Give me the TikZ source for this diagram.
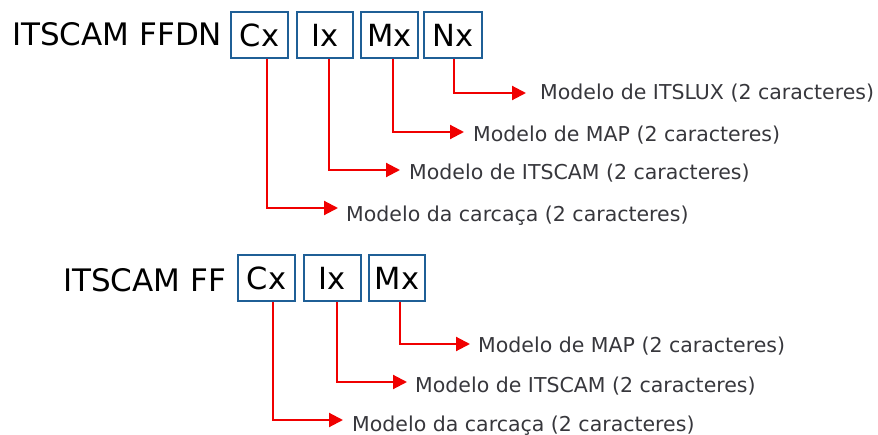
\documentclass[tikz,border=0pt]{standalone}
\usepackage{fontspec}
\setmainfont{DejaVu Sans}
\usetikzlibrary{arrows.meta}
\definecolor{boxblue}{RGB}{31,95,150}
\definecolor{arrred}{RGB}{240,0,0}
\definecolor{labgray}{RGB}{55,55,60}
\begin{document}
\begin{tikzpicture}[x=1pt,y=-1pt,
  titletext/.style={anchor=base west,inner sep=0pt,font=\fontsize{31}{31}\selectfont,text=black},
  fieldbox/.style={draw=boxblue,line width=2.6pt,minimum height=46pt,inner sep=0pt,
    font=\fontsize{30.5}{30.5}\selectfont,text=black},
  labeltext/.style={anchor=base west,inner sep=0pt,font=\fontsize{20.5}{20.5}\selectfont,text=labgray},
  arr/.style={draw=arrred,line width=2.1pt,-{Triangle[length=14pt,width=14pt]}}]
\useasboundingbox (0,0) rectangle (878,435);

% ---- top group ----
\node[titletext] (t1) at (12,46) {ITSCAM FFDN};
\node[fieldbox,minimum width=57pt] (c1) at (259.5,35) {Cx};
\node[fieldbox,minimum width=56pt] (i1) at (325,35) {Ix};
\node[fieldbox,minimum width=57pt] (m1) at (389.5,35) {Mx};
\node[fieldbox,minimum width=58pt] (n1) at (453,35) {Nx};

\node[labeltext] (ln1) at (540,100) {Modelo de ITSLUX (2 caracteres)};
\node[labeltext] (lm1) at (473,142) {Modelo de MAP (2 caracteres)};
\node[labeltext] (li1) at (409,180) {Modelo de ITSCAM (2 caracteres)};
\node[labeltext] (lc1) at (346,222) {Modelo da carcaça (2 caracteres)};

\coordinate (tn1) at (526,93);
\coordinate (tm1) at (464,132);
\coordinate (ti1) at (400,170);
\coordinate (tc1) at (338,208);

\draw[arr] ([xshift=1pt]n1.south) |- (tn1);
\draw[arr] ([xshift=3.5pt]m1.south) |- (tm1);
\draw[arr] ([xshift=4pt]i1.south) |- (ti1);
\draw[arr] ([xshift=7.5pt]c1.south) |- (tc1);

% ---- bottom group ----
\node[titletext] (t2) at (63,292) {ITSCAM FF};
\node[fieldbox,minimum width=57pt] (c2) at (266.5,278) {Cx};
\node[fieldbox,minimum width=57pt] (i2) at (332.5,278) {Ix};
\node[fieldbox,minimum width=56pt] (m2) at (397,278) {Mx};

\node[labeltext] (lm2) at (478,353) {Modelo de MAP (2 caracteres)};
\node[labeltext] (li2) at (415,392) {Modelo de ITSCAM (2 caracteres)};
\node[labeltext] (lc2) at (352,431) {Modelo da carcaça (2 caracteres)};

\coordinate (tm2) at (470,344);
\coordinate (ti2) at (407,382);
\coordinate (tc2) at (343,420);

\draw[arr] ([xshift=3pt]m2.south) |- (tm2);
\draw[arr] ([xshift=4.5pt]i2.south) |- (ti2);
\draw[arr] ([xshift=6.5pt]c2.south) |- (tc2);
\end{tikzpicture}
\end{document}
